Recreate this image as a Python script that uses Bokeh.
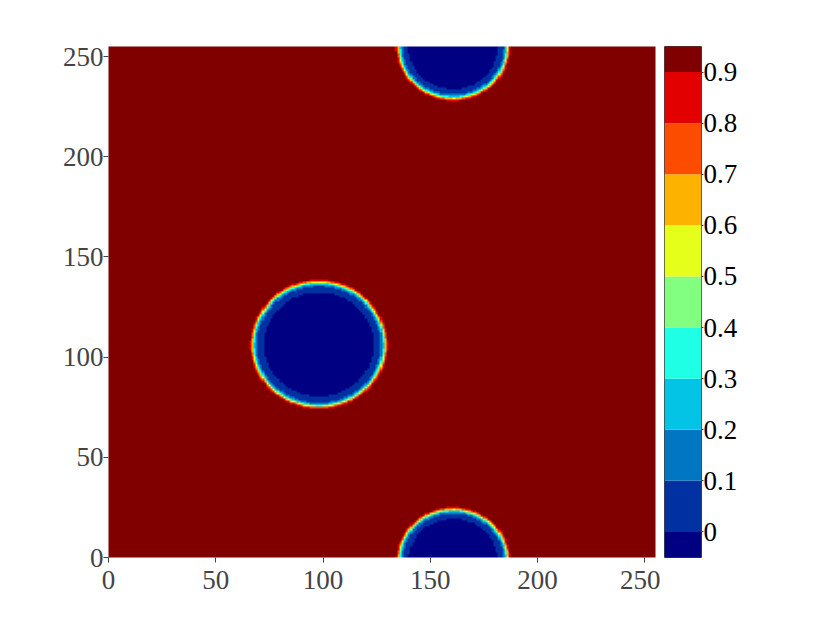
import numpy as np
from bokeh.plotting import figure
from bokeh.layouts import row
from bokeh.models import Range1d, FixedTicker, LinearColorMapper
from bokeh.embed import file_html
from bokeh.resources import INLINE

# ---- data ----
grid_n = 256
period_y = 256
circle_x = [98.0, 160.6]        # centres of the droplets
circle_y = [106.3, -1.5]        # second droplet wraps around (periodic in y)
circle_r = [30.7, 25.3]         # interface radius (phi = 0.5)
ring_width = [5.0, 4.5]         # width of the 0..0.1 ring just inside the interface
value_inside = -0.05
value_ring = 0.05
value_outside = 1.0
interface_w = 1.3
ring_edge_w = 0.5

levels = [-0.1, 0.0, 0.1, 0.2, 0.3, 0.4, 0.5, 0.6, 0.7, 0.8, 0.9, 1.0]
palette = ["#000083", "#0030a2", "#0177c4", "#04c4e6", "#1effe6", "#82ff80",
           "#e6ff1a", "#feb200", "#fc4c00", "#e20000", "#800000"]
cbar_ticks = [0, 0.1, 0.2, 0.3, 0.4, 0.5, 0.6, 0.7, 0.8, 0.9]
cbar_labels = ["0", "0.1", "0.2", "0.3", "0.4", "0.5", "0.6", "0.7", "0.8", "0.9"]
cbar_range = [-0.05, 0.95]
axis_ticks = [0, 50, 100, 150, 200, 250]
axis_range = [0, 255]

# ---- build field from the droplet description ----
gx, gy = np.meshgrid(np.arange(grid_n, dtype=float), np.arange(grid_n, dtype=float))
phi = np.full(gx.shape, value_outside)
for cx, cy, r, rw in zip(circle_x, circle_y, circle_r, ring_width):
    d = np.full(gx.shape, np.inf)
    for shift in (-period_y, 0, period_y):
        d = np.minimum(d, np.hypot(gx - cx, gy - (cy + shift)))
    outer = 0.5 * (1 + np.tanh((d - r) / interface_w))
    ring = 0.5 * (1 + np.tanh((d - (r - rw)) / ring_edge_w))
    val = value_inside + (value_ring - value_inside) * ring + (value_outside - value_ring) * outer
    phi = np.minimum(phi, val)

mapper = LinearColorMapper(palette=palette, low=levels[0], high=levels[-1])

font = "Liberation Serif"
fs = "27px"

p = figure(frame_width=547, frame_height=511, output_backend="svg", toolbar_location=None,
           x_range=Range1d(*axis_range), y_range=Range1d(*axis_range),
           min_border_left=108, min_border_top=46, min_border_bottom=50, min_border_right=5,
           background_fill_color="white", border_fill_color="white")
p.image(image=[phi], x=-0.5, y=-0.5, dw=grid_n, dh=grid_n, color_mapper=mapper)
p.outline_line_color = None
p.grid.visible = False
for ax in (p.xaxis[0], p.yaxis[0]):
    ax.ticker = FixedTicker(ticks=axis_ticks)
    ax.minor_tick_line_color = None
    ax.axis_line_color = None
    ax.major_tick_line_color = "#444444"
    ax.major_tick_in = 0
    ax.major_tick_out = 5
    ax.major_label_text_font = font
    ax.major_label_text_font_size = fs
    ax.major_label_text_color = "#444444"
p.xaxis.major_label_standoff = 8
p.yaxis.major_label_standoff = 0

cb = figure(frame_width=37, frame_height=511, output_backend="svg", toolbar_location=None,
            x_range=Range1d(0, 1), y_range=Range1d(*cbar_range), y_axis_location="right",
            min_border_left=4, min_border_top=46, min_border_bottom=50, min_border_right=60,
            background_fill_color="white", border_fill_color="white")
cb.quad(left=0, right=1, bottom=levels[:-1], top=levels[1:], fill_color=palette, line_color=None)
cb.xaxis.visible = False
cb.grid.visible = False
cb.outline_line_color = "#444444"
cb.outline_line_width = 1
yax = cb.yaxis[0]
yax.ticker = FixedTicker(ticks=cbar_ticks)
yax.major_label_overrides = {t: l for t, l in zip(cbar_ticks, cbar_labels)}
yax.minor_tick_line_color = None
yax.axis_line_color = None
yax.major_tick_line_color = "#444444"
yax.major_tick_in = 0
yax.major_tick_out = 2
yax.major_label_standoff = 0
yax.major_label_text_font = font
yax.major_label_text_font_size = fs
yax.major_label_text_color = "black"

layout = row(p, cb, spacing=0)
open("out.html", "w").write(file_html(layout, INLINE))
